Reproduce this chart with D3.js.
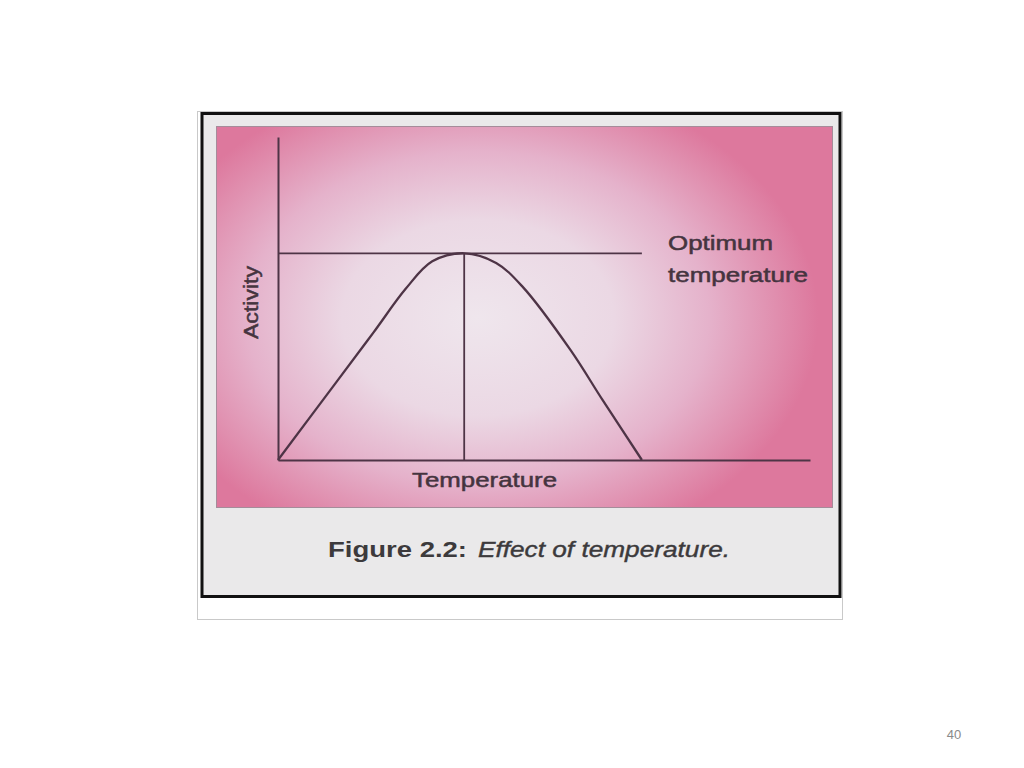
<!DOCTYPE html>
<html>
<head>
<meta charset="utf-8">
<script src="https://cdn.jsdelivr.net/npm/d3@7"></script>
<style>
  body { margin: 0; background: #fff; }
  text { font-family: "Liberation Sans", Arial, sans-serif; }
</style>
</head>
<body>
<div id="main"></div>
<script>
// activity vs temperature (arbitrary 0-100 units)
const temperature = [0, 11, 18, 24, 29, 35, 41, 46, 55, 61, 68.4]
const activity = [0, 24.2, 39.6, 53, 61.5, 64, 61, 53.6, 34, 18.6, 0]
const optimum = { temperature: 35, activity: 64 }
const axisLabels = ["Temperature", "Activity"]
const optimumLabel = ["Optimum", "temperature"]

let width = 1024,
    height = 768

var svg = d3.select("div#main")
    .append("svg")
    .attr("width", width)
    .attr("height", height)

svg.append("rect").attr("width", width).attr("height", height).attr("fill", "#fff")

// pink wash of the scan
let defs = svg.append("defs")
let grad = defs.append("radialGradient")
    .attr("id", "wash")
    .attr("gradientUnits", "userSpaceOnUse")
    .attr("cx", 478).attr("cy", 318).attr("r", 340)
    .attr("gradientTransform", "translate(478,318) scale(1,0.72) translate(-478,-318)")
grad.selectAll("stop")
    .data([[0, "#efe6ed"], [0.4, "#ebd8e4"], [0.68, "#e5b2cb"], [0.88, "#e08eae"], [1, "#dd789d"]])
    .join("stop")
    .attr("offset", d => d[0])
    .attr("stop-color", d => d[1])

// frames
svg.append("rect")
    .attr("x", 197.5).attr("y", 111.5).attr("width", 645).attr("height", 508)
    .attr("fill", "#fff").attr("stroke", "#c9c9c9")
svg.append("rect")
    .attr("x", 202).attr("y", 113.5).attr("width", 638).attr("height", 483)
    .attr("fill", "#eae9ea").attr("stroke", "#111").attr("stroke-width", 3)
svg.append("rect")
    .attr("x", 216.5).attr("y", 126.5).attr("width", 616).attr("height", 381)
    .attr("fill", "url(#wash)").attr("stroke", "#a58c9a").attr("stroke-width", 1)

let x = d3.scaleLinear().domain([0, 100]).range([278, 810])
let y = d3.scaleLinear().domain([0, 100]).range([460, 137])

const ink = "#4e3446"

svg.append("g")
    .attr("transform", "translate(0," + y(0) + ")")
    .call(d3.axisBottom(x).ticks(0).tickSizeOuter(0))
svg.append("g")
    .attr("transform", "translate(" + x(0) + ",0)")
    .call(d3.axisLeft(y).ticks(0).tickSizeOuter(0))
svg.selectAll(".domain").attr("stroke", ink).attr("stroke-width", 2)

// optimum guide lines
svg.append("line")
    .attr("x1", x(0)).attr("x2", x(temperature[temperature.length - 1]))
    .attr("y1", y(optimum.activity)).attr("y2", y(optimum.activity))
    .attr("stroke", ink).attr("stroke-width", 1.8)
svg.append("line")
    .attr("x1", x(optimum.temperature)).attr("x2", x(optimum.temperature))
    .attr("y1", y(optimum.activity)).attr("y2", y(0))
    .attr("stroke", ink).attr("stroke-width", 1.8)

let points = temperature.map((t, i) => [t, activity[i]])
let line = d3.line()
    .x(d => x(d[0]))
    .y(d => y(d[1]))
    .curve(d3.curveCatmullRom.alpha(0.5))

svg.append("path")
    .datum(points)
    .attr("d", line)
    .attr("fill", "none")
    .attr("stroke", ink)
    .attr("stroke-width", 2.3)

// labels
const textInk = "#45343f"
svg.append("text")
    .attr("x", 412).attr("y", 487)
    .attr("font-size", 21)
    .attr("textLength", 145).attr("lengthAdjust", "spacingAndGlyphs")
    .attr("fill", textInk).attr("stroke", textInk).attr("stroke-width", 0.5)
    .text(axisLabels[0])

svg.append("text")
    .attr("transform", "translate(258,339) rotate(-90)")
    .attr("font-size", 20)
    .attr("textLength", 73).attr("lengthAdjust", "spacingAndGlyphs")
    .attr("fill", textInk).attr("stroke", textInk).attr("stroke-width", 0.5)
    .text(axisLabels[1])

svg.selectAll(".opt")
    .data(optimumLabel)
    .join("text")
    .attr("class", "opt")
    .attr("x", 668)
    .attr("y", (d, i) => 250 + i * 32)
    .attr("font-size", 20)
    .attr("textLength", (d, i) => i == 0 ? 105 : 140)
    .attr("lengthAdjust", "spacingAndGlyphs")
    .attr("fill", textInk).attr("stroke", textInk).attr("stroke-width", 0.5)
    .text(d => d)

// caption
svg.append("text")
    .attr("x", 328).attr("y", 557)
    .attr("font-size", 22).attr("font-weight", "bold")
    .attr("textLength", 139).attr("lengthAdjust", "spacingAndGlyphs")
    .attr("fill", "#3c3a3c")
    .text("Figure 2.2:")
svg.append("text")
    .attr("x", 478).attr("y", 557)
    .attr("font-size", 22).attr("font-style", "italic")
    .attr("textLength", 252).attr("lengthAdjust", "spacingAndGlyphs")
    .attr("fill", "#3c3a3c").attr("stroke", "#3c3a3c").attr("stroke-width", 0.4)
    .text("Effect of temperature.")

// slide number
svg.append("text")
    .attr("x", 954).attr("y", 739)
    .attr("text-anchor", "middle")
    .attr("font-family", "'Open Sans', sans-serif")
    .attr("font-size", 13)
    .attr("fill", "#8a8a8a")
    .text("40")
</script>
</body>
</html>
